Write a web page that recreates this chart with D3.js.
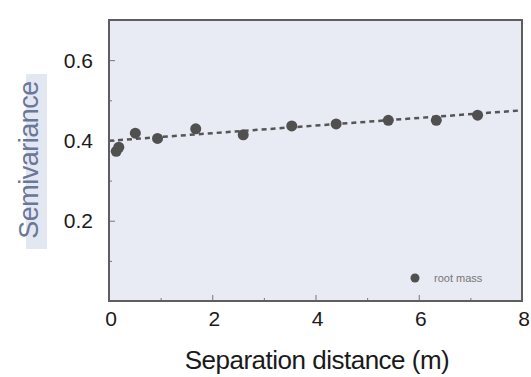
<!DOCTYPE html>
<html>
<head>
<meta charset="utf-8">
<script src="https://cdn.jsdelivr.net/npm/d3@7"></script>
<style>
  body { margin: 0; background: #fff; }
  text { font-family: "Liberation Sans", Arial, sans-serif; }
</style>
</head>
<body>
<div id="chart"></div>
<script>
// data
var distance    = [0.14, 0.19, 0.51, 0.94, 1.68, 2.60, 3.54, 4.40, 5.41, 6.34, 7.14];
var semivar     = [0.373, 0.383, 0.418, 0.405, 0.429, 0.414, 0.436, 0.441, 0.450, 0.450, 0.463];
var trendX      = [0, 8];
var trendY      = [0.399, 0.475];
var xTickValues = [0, 2, 4, 6, 8];
var yTickValues = [0.2, 0.4, 0.6];
var seriesName  = "root mass";

// size setup
var width = 531, height = 377;
var box = {left: 109, right: 522, top: 20, bottom: 301};

var svg = d3.select("#chart").append("svg")
    .attr("width", width)
    .attr("height", height);

var xScale = d3.scaleLinear().domain([0, 8]).range([box.left, box.right]);
var yScale = d3.scaleLinear().domain([0, 0.7]).range([box.bottom, box.top]);

// plot background
svg.append("rect")
    .attr("x", box.left).attr("y", box.top)
    .attr("width", box.right - box.left)
    .attr("height", box.bottom - box.top)
    .style("fill", "#e8eaf4");

// inner ticks (major + minor)
var xAxis = d3.axisBottom(xScale).tickValues([1, 2, 3, 4, 5, 6, 7])
    .tickSize(-6).tickFormat("");
var gx = svg.append("g")
    .attr("transform", "translate(0," + box.bottom + ")")
    .call(xAxis);
gx.selectAll(".tick line")
    .attr("y2", function(d){ return d % 2 === 0 ? -6 : -3; })
    .style("stroke", "#777");
gx.select(".domain").remove();

var yAxis = d3.axisLeft(yScale).tickValues([0.1, 0.2, 0.3, 0.4, 0.5, 0.6])
    .tickSize(-6).tickFormat("");
var gy = svg.append("g")
    .attr("transform", "translate(" + box.left + ",0)")
    .call(yAxis);
gy.selectAll(".tick line")
    .attr("x2", function(d){ return Math.round(d * 10) % 2 === 0 ? 6 : 3; })
    .style("stroke", "#777");
gy.select(".domain").remove();

// tick labels
svg.append("g").selectAll("text")
    .data(xTickValues)
    .enter().append("text")
    .attr("x", function(d){ return xScale(d) + 2; })
    .attr("y", 326)
    .attr("text-anchor", "middle")
    .style("font-size", "21px")
    .style("fill", "#1a1a1a")
    .text(function(d){ return d; });

svg.append("g").selectAll("text")
    .data(yTickValues)
    .enter().append("text")
    .attr("x", 93)
    .attr("y", function(d){ return yScale(d) + 7.5; })
    .attr("text-anchor", "end")
    .style("font-size", "21px")
    .style("fill", "#1a1a1a")
    .text(function(d){ return d.toFixed(1); });

// axis titles
svg.append("text")
    .attr("x", 317)
    .attr("y", 369)
    .attr("text-anchor", "middle")
    .style("font-size", "26px")
    .style("letter-spacing", "-0.5px")
    .style("fill", "#1a1a1a")
    .text("Separation distance (m)");

svg.append("rect")
    .attr("x", 26).attr("y", 74)
    .attr("width", 21).attr("height", 175)
    .style("fill", "#e3e7f2");
svg.append("text")
    .attr("transform", "translate(38,160) rotate(-90)")
    .attr("text-anchor", "middle")
    .style("font-size", "27px")
    .style("letter-spacing", "-0.5px")
    .style("fill", "#6a7796")
    .text("Semivariance");

// dashed trend line, clipped to the frame
svg.append("clipPath").attr("id", "clip")
    .append("rect")
    .attr("x", box.left).attr("y", box.top)
    .attr("width", box.right - box.left)
    .attr("height", box.bottom - box.top);

var line = d3.line()
    .x(function(d){ return xScale(d[0]); })
    .y(function(d){ return yScale(d[1]); });

svg.append("path")
    .datum(d3.zip(trendX, trendY))
    .attr("d", line)
    .attr("clip-path", "url(#clip)")
    .style("fill", "none")
    .style("stroke", "#555")
    .style("stroke-width", 2.5)
    .style("stroke-dasharray", "5,4");

// points
svg.append("g").selectAll("circle")
    .data(d3.zip(distance, semivar))
    .enter().append("circle")
    .attr("cx", function(d){ return xScale(d[0]); })
    .attr("cy", function(d){ return yScale(d[1]); })
    .attr("r", 5.5)
    .style("fill", "#505050");

// frame
svg.append("rect")
    .attr("x", box.left).attr("y", box.top)
    .attr("width", box.right - box.left)
    .attr("height", box.bottom - box.top)
    .style("fill", "none")
    .style("stroke", "#5e5e5e")
    .style("stroke-width", 2);

// legend
svg.append("circle")
    .attr("cx", 415).attr("cy", 278).attr("r", 4.5)
    .style("fill", "#505050");
svg.append("text")
    .attr("x", 434).attr("y", 282)
    .style("font-size", "11px")
    .style("fill", "#777")
    .text(seriesName);
</script>
</body>
</html>
